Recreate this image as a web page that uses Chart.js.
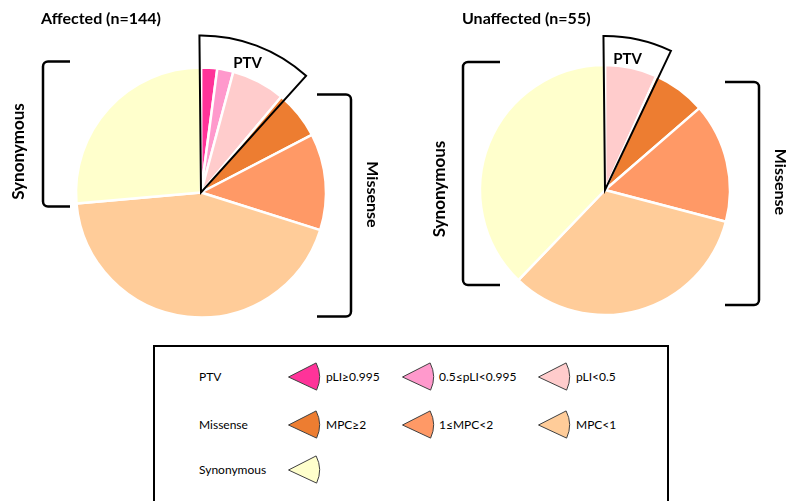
<!DOCTYPE html>
<html><head><meta charset="utf-8">
<script src="https://cdn.jsdelivr.net/npm/chart.js@4.4.1/dist/chart.umd.min.js"></script>
<style>
html,body{margin:0;padding:0;background:#fff;width:786px;height:501px;overflow:hidden;font-family:Lato,"Open Sans",sans-serif;}
#wrap{position:relative;width:786px;height:501px;}
canvas{position:absolute;}
#legendBox{position:absolute;left:153px;top:345px;height:200px;border:2px solid #000;box-sizing:border-box;width:516px;}
.lbl{position:absolute;font-size:12px;color:#000;transform:translateY(-50%);white-space:nowrap;line-height:16px;}
.ico{position:absolute;transform:translateY(-50%);}
</style></head>
<body><div id="wrap">
<canvas id="cA" width="393" height="345" style="left:0;top:0"></canvas>
<canvas id="cU" width="393" height="345" style="left:393px;top:0"></canvas>
<div id="legendBox"></div>
</div>
<script>
// ---------- data ----------
const categories = ['pLI≥0.995', '0.5≤pLI<0.995', 'pLI<0.5', 'MPC≥2', '1≤MPC<2', 'MPC<1', 'Synonymous'];
const groups = ['PTV', 'PTV', 'PTV', 'Missense', 'Missense', 'Missense', 'Synonymous'];
const affectedCounts = [3, 3, 10, 9, 18, 63, 38];
const unaffectedCounts = [0, 0, 3.7, 3.8, 8.5, 18.2, 20.8];
const sliceColors = ['#FF3399', '#FF99CC', '#FFCCCC', '#ED7D31', '#FF9966', '#FFCC99', '#FFFFCC'];
const chartTitles = ['Affected (n=144)', 'Unaffected (n=55)'];

const FONT = 'Lato, "Open Sans", sans-serif';

// ---------- decoration plugin (PTV outline, brackets, labels, title) ----------
const decor = {
  id: 'decor',
  afterDatasetsDraw(chart, args, o) {
    const ctx = chart.ctx;
    const vals = chart.data.datasets[0].data;
    const arcs = chart.getDatasetMeta(0).data;
    const cx = arcs[0].x, cy = arcs[0].y, R = arcs[0].outerRadius;
    ctx.save();
    // PTV exploded outline
    const idx = groups.map((g, i) => (g === 'PTV' && vals[i] > 0) ? i : -1).filter(i => i >= 0);
    const s = Math.min(...idx.map(i => arcs[i].startAngle)) - o.ptvPadStart;
    const e = Math.max(...idx.map(i => arcs[i].endAngle)) + o.ptvPadEnd;
    const r2 = R + o.ptvExtra;
    ctx.beginPath();
    ctx.moveTo(cx, cy);
    ctx.lineTo(cx + r2 * Math.cos(s), cy + r2 * Math.sin(s));
    ctx.arc(cx, cy, r2, s, e);
    ctx.closePath();
    ctx.lineWidth = 2; ctx.strokeStyle = '#000'; ctx.lineJoin = 'miter';
    ctx.stroke();
    // PTV label
    const m = s + (e - s) * o.ptvLabelFrac;
    const rl = R + o.ptvLabelR;
    ctx.fillStyle = '#000';
    ctx.font = 'bold 15px ' + FONT;
    ctx.textAlign = 'center'; ctx.textBaseline = 'middle';
    ctx.fillText('PTV', cx + rl * Math.cos(m), cy + rl * Math.sin(m));
    // brackets
    ctx.lineWidth = 2.5; ctx.lineCap = 'butt';
    o.brackets.forEach(b => {
      const x = cx + b.x, t = cy + b.top, btm = cy + b.bottom, d = b.dir, L = b.tick;
      ctx.beginPath();
      ctx.moveTo(x + d * L, t);
      ctx.arcTo(x, t, x, btm, 5);
      ctx.arcTo(x, btm, x + d * L, btm, 5);
      ctx.lineTo(x + d * L, btm);
      ctx.stroke();
      ctx.save();
      ctx.translate(cx + b.lx, cy + b.ly);
      ctx.rotate(b.rot);
      ctx.font = 'bold ' + b.size + 'px ' + FONT;
      ctx.textAlign = 'center'; ctx.textBaseline = 'middle';
      ctx.fillText(b.label, 0, 0);
      ctx.restore();
    });
    // title
    ctx.font = 'bold 16px ' + FONT;
    ctx.textAlign = 'left'; ctx.textBaseline = 'middle';
    ctx.fillText(o.title, o.titleX, o.titleY);
    ctx.restore();
  }
};

function makePie(id, values, padding, deco) {
  return new Chart(document.getElementById(id), {
    type: 'pie',
    data: {
      labels: categories,
      datasets: [{
        data: values,
        backgroundColor: sliceColors,
        borderColor: '#ffffff',
        borderWidth: 2.5,
        radius: 125
      }]
    },
    options: {
      responsive: false,
      animation: false,
      devicePixelRatio: 1,
      layout: { padding: padding },
      plugins: { legend: { display: false }, tooltip: { enabled: false }, title: { display: false }, decor: deco }
    },
    plugins: [decor]
  });
}

makePie('cA', affectedCounts, { left: 19, right: 10, top: 50, bottom: 10 }, {
  title: chartTitles[0], titleX: 41, titleY: 19,
  ptvExtra: 32, ptvPadStart: 0.01, ptvPadEnd: 0.035, ptvLabelFrac: 0.48, ptvLabelR: 12,
  brackets: [
    { label: 'Synonymous', size: 17, x: -158, top: -131, bottom: 14, dir: 1, tick: 27, lx: -182, ly: -41, rot: -Math.PI / 2 },
    { label: 'Missense', size: 16, x: 150, top: -98, bottom: 124, dir: -1, tick: 34, lx: 171, ly: 2, rot: Math.PI / 2 }
  ]
});

makePie('cU', unaffectedCounts, { left: 41, right: 10, top: 45, bottom: 10 }, {
  title: chartTitles[1], titleX: 69, titleY: 19,
  ptvExtra: 29, ptvPadStart: 0.01, ptvPadEnd: 0.02, ptvLabelFrac: 0.4, ptvLabelR: 8,
  brackets: [
    { label: 'Synonymous', size: 17, x: -142, top: -128, bottom: 95, dir: 1, tick: 37, lx: -165, ly: -1, rot: -Math.PI / 2 },
    { label: 'Missense', size: 16, x: 154, top: -108, bottom: 115, dir: -1, tick: 34, lx: 175, ly: -8, rot: Math.PI / 2 }
  ]
});

// ---------- legend ----------
(function buildLegend() {
  const wrap = document.getElementById('wrap');
  const rowY = [377, 425, 470];
  const groupX = 199;
  const iconX = [288, 402, 538];
  const textX = [326, 439, 576];
  const uniq = [...new Set(groups)];
  const svgNS = 'http://www.w3.org/2000/svg';
  uniq.forEach((g, r) => {
    const gl = document.createElement('div');
    gl.className = 'lbl'; gl.textContent = g;
    gl.style.left = groupX + 'px'; gl.style.top = rowY[r] + 'px';
    wrap.appendChild(gl);
    const items = categories.map((c, i) => i).filter(i => groups[i] === g);
    items.forEach((i, k) => {
      const svg = document.createElementNS(svgNS, 'svg');
      svg.setAttribute('width', 34); svg.setAttribute('height', 32);
      svg.setAttribute('class', 'ico');
      svg.style.left = (iconX[k] - 1) + 'px'; svg.style.top = rowY[r] + 'px';
      const a1 = -27 * Math.PI / 180, a2 = 25 * Math.PI / 180, rr = 31, ax = 1.5, ay = 16;
      const p = document.createElementNS(svgNS, 'path');
      p.setAttribute('d', `M${ax} ${ay} L${ax + rr * Math.cos(a1)} ${ay + rr * Math.sin(a1)} A${rr} ${rr} 0 0 1 ${ax + rr * Math.cos(a2)} ${ay + rr * Math.sin(a2)} Z`);
      p.setAttribute('fill', sliceColors[i]);
      p.setAttribute('stroke', '#404040');
      p.setAttribute('stroke-width', '1');
      svg.appendChild(p);
      wrap.appendChild(svg);
      if (categories[i] !== g) {
        const t = document.createElement('div');
        t.className = 'lbl'; t.textContent = categories[i];
        t.style.left = textX[k] + 'px'; t.style.top = rowY[r] + 'px';
        wrap.appendChild(t);
      }
    });
  });
})();
</script>
</body></html>
